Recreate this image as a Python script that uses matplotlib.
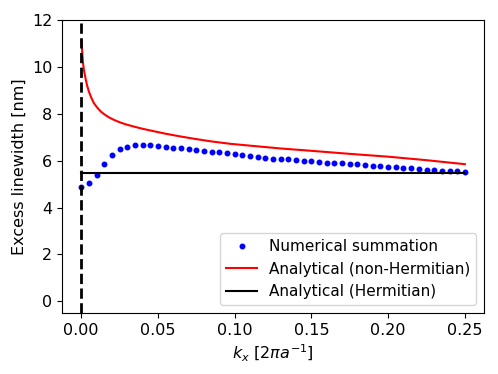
import numpy as np
from matplotlib import pyplot as plt

# numerical summation (blue dots), kx grid 0 .. 0.25 step 0.005
kx_num = np.linspace(0, 0.25, 51)
width_num = [4.86, 5.03, 5.37, 5.84, 6.24, 6.48, 6.60, 6.66, 6.66, 6.65,
             6.63, 6.59, 6.56, 6.52, 6.49, 6.45, 6.41, 6.39, 6.35, 6.32,
             6.28, 6.24, 6.21, 6.15, 6.12, 6.09, 6.07, 6.05, 6.02, 5.99,
             5.98, 5.95, 5.92, 5.91, 5.88, 5.85, 5.84, 5.81, 5.79, 5.77,
             5.74, 5.71, 5.70, 5.67, 5.65, 5.62, 5.61, 5.58, 5.57, 5.56,
             5.53]

# analytical non-Hermitian (red)
kx_nh = [0.0002, 0.0006, 0.0011, 0.0018, 0.0028, 0.0038, 0.005, 0.0065,
         0.0083, 0.0105, 0.0127, 0.015, 0.018, 0.021, 0.025, 0.029,
         0.034, 0.040, 0.047, 0.055, 0.064, 0.074, 0.085, 0.097, 0.110,
         0.130, 0.150, 0.175, 0.200, 0.225, 0.25]
width_nh = [11.10, 10.70, 10.23, 9.85, 9.52, 9.22, 8.95, 8.70,
            8.45, 8.26, 8.10, 7.98, 7.85, 7.75, 7.64, 7.55,
            7.46, 7.36, 7.26, 7.15, 7.04, 6.93, 6.82, 6.72, 6.64,
            6.52, 6.42, 6.29, 6.17, 6.02, 5.85]

# analytical Hermitian (black)
kx_h = [0.0, 0.25]
width_h = [5.46, 5.46]

fs = 11.5
fig = plt.figure(dpi=100, figsize=(4.98, 3.74))
ax = fig.add_axes([0.1245, 0.163, 0.8475, 0.7835])

ax.plot(kx_num, width_num, 'b.', markersize=6.5, label='Numerical summation')
ax.plot(kx_nh, width_nh, c='red', lw=1.5, label='Analytical (non-Hermitian)')
ax.plot(kx_h, width_h, c='black', lw=1.5, label='Analytical (Hermitian)')
ax.axvline(0, color='black', ls='--', lw=2)

ax.set_ylim(-0.5, 12)
ax.set_xlabel(r'$k_x$ [$2\pi a^{-1}$]', fontsize=fs)
ax.set_ylabel('Excess linewidth [nm]', fontsize=fs)
ax.tick_params(axis='both', which='major', labelsize=fs)
ax.legend(loc='lower right', fontsize=fs - 0.5)

fig.savefig('out.png')
